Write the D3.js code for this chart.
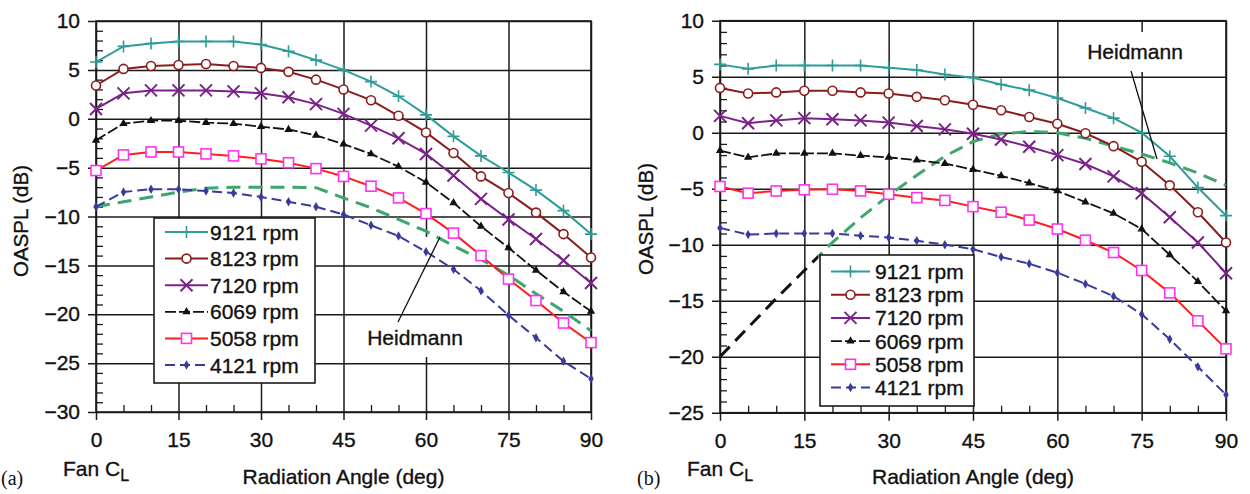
<!DOCTYPE html>
<html>
<head>
<meta charset="utf-8">
<script src="https://cdn.jsdelivr.net/npm/d3@7"></script>
<style>
  body { margin: 0; background: #fff; }
  text { font-family: "Liberation Sans", Arial, sans-serif; stroke: #111; stroke-width: 0.35px; }
</style>
</head>
<body>
<svg id="chart" width="1250" height="494"></svg>
<script>
// ---- data ----
const angles = [0, 5, 10, 15, 20, 25, 30, 35, 40, 45, 50, 55, 60, 65, 70, 75, 80, 85, 90];
const rpmLabels = ["9121 rpm", "8123 rpm", "7120 rpm", "6069 rpm", "5058 rpm", "4121 rpm"];
const xTicks = [0, 15, 30, 45, 60, 75, 90];
const xMinor = [5, 10, 20, 25, 35, 40, 50, 55, 65, 70, 80, 85];
const yTicksA = [10, 5, 0, -5, -10, -15, -20, -25, -30];
const yTicksB = [10, 5, 0, -5, -10, -15, -20, -25];

// panel (a)
const a9121 = [5.8, 7.4, 7.7, 7.9, 7.9, 7.9, 7.6, 6.9, 6.0, 5.0, 3.8, 2.3, 0.4, -1.8, -3.8, -5.5, -7.3, -9.4, -11.8];
const a8123 = [3.4, 5.1, 5.4, 5.5, 5.6, 5.4, 5.2, 4.8, 4.0, 3.0, 1.9, 0.3, -1.4, -3.5, -5.9, -7.6, -9.6, -11.8, -14.2];
const a7120 = [1.0, 2.6, 2.9, 2.9, 2.9, 2.8, 2.6, 2.2, 1.5, 0.5, -0.7, -2.0, -3.6, -5.8, -8.2, -10.3, -12.3, -14.5, -16.8];
const a6069 = [-2.2, -0.5, -0.2, -0.2, -0.4, -0.5, -0.8, -1.1, -1.7, -2.6, -3.6, -4.9, -6.5, -8.6, -11.0, -13.2, -15.5, -17.7, -19.7];
const a5058 = [-5.3, -3.7, -3.4, -3.4, -3.6, -3.8, -4.1, -4.5, -5.1, -5.9, -6.9, -8.1, -9.7, -11.7, -14.0, -16.4, -18.6, -20.9, -22.9];
const a4121 = [-9.0, -7.5, -7.2, -7.2, -7.4, -7.6, -8.0, -8.5, -9.0, -9.8, -10.9, -12.0, -13.6, -15.4, -17.6, -20.1, -22.4, -24.8, -26.6];
const aHeidmann = [-9.0, -8.5, -8.0, -7.5, -7.1, -7.0, -7.0, -7.0, -7.05, -8.1, -9.1, -10.3, -11.5, -13.0, -14.4, -16.0, -17.9, -19.7, -21.7];

// panel (b)
const b9121 = [6.1, 5.7, 6.0, 6.0, 6.0, 6.0, 5.8, 5.6, 5.2, 4.9, 4.3, 3.8, 3.1, 2.2, 1.3, 0.0, -2.1, -4.9, -7.4];
const b8123 = [4.0, 3.5, 3.6, 3.75, 3.75, 3.6, 3.5, 3.2, 2.9, 2.5, 2.0, 1.4, 0.8, -0.05, -1.2, -2.6, -4.7, -7.1, -9.8];
const b7120 = [1.5, 0.85, 1.1, 1.3, 1.2, 1.1, 0.9, 0.6, 0.3, -0.1, -0.6, -1.25, -2.0, -2.8, -3.9, -5.4, -7.55, -9.8, -12.55];
const b6069 = [-1.6, -2.2, -1.85, -1.85, -1.85, -2.05, -2.2, -2.45, -2.75, -3.3, -3.85, -4.5, -5.2, -6.2, -7.2, -8.6, -10.9, -13.3, -15.9];
const b5058 = [-4.8, -5.4, -5.2, -5.1, -5.05, -5.2, -5.5, -5.8, -6.05, -6.6, -7.1, -7.8, -8.6, -9.6, -10.7, -12.3, -14.3, -16.8, -19.3];
const b4121 = [-8.5, -9.1, -9.0, -9.0, -9.0, -9.2, -9.35, -9.65, -10.0, -10.4, -11.1, -11.7, -12.5, -13.5, -14.6, -16.2, -18.45, -20.9, -23.4];
const bHeidmann = [-20.0, -17.4, -14.8, -12.3, -9.8, -7.6, -5.6, -3.8, -2.1, -0.8, -0.1, 0.1, 0.0, -0.5, -1.2, -1.9, -2.7, -3.6, -4.7];

// ---- look of each rpm curve ----
const styles = [
  { color: "#2f9c98", dash: null, width: 2, marker: "plus" },
  { color: "#8b1c1c", dash: null, width: 2, marker: "circle" },
  { color: "#7a228a", dash: null, width: 2, marker: "cross" },
  { color: "#111", dash: "11,3", width: 1.8, marker: "triangle" },
  { color: "#ff1e1e", dash: null, width: 2, marker: "square" },
  { color: "#3a3a9c", dash: "10,5", width: 2, marker: "diamond" }
];
const heidColor = "#3ea56c";
const gridColor = "#1a1a1a";

const svg = d3.select("#chart");

function drawMarker(sel, kind, color) {
  if (kind === "plus") {
    sel.append("path").attr("d", "M-6,0H6M0,-6V6").attr("stroke", color).attr("stroke-width", 1.6).attr("fill", "none");
  } else if (kind === "circle") {
    sel.append("circle").attr("r", 4.5).attr("fill", "#fff").attr("stroke", color).attr("stroke-width", 1.6);
  } else if (kind === "cross") {
    sel.append("path").attr("d", "M-6,-6L6,6M-6,6L6,-6").attr("stroke", color).attr("stroke-width", 2).attr("fill", "none");
  } else if (kind === "triangle") {
    sel.append("path").attr("d", d3.symbol(d3.symbolTriangle, 30)()).attr("fill", color);
  } else if (kind === "square") {
    sel.append("rect").attr("x", -5).attr("y", -5).attr("width", 10).attr("height", 10)
      .attr("fill", "#fff").attr("stroke", "#ff33ee").attr("stroke-width", 1.6);
  } else if (kind === "diamond") {
    sel.append("path").attr("d", d3.symbol(d3.symbolDiamond, 26)()).attr("fill", color);
  }
}

function drawPanel(p) {
  const g = svg.append("g");
  const x = d3.scaleLinear([0, 90], [p.left, p.right]);
  const y = d3.scaleLinear(p.yDomain, [p.bottom, p.top]);
  const W = p.right - p.left, H = p.bottom - p.top;

  // vertical grid lines + angle labels
  const xAx = g.append("g").attr("transform", `translate(0,${p.top})`)
    .call(d3.axisBottom(x).tickValues(xTicks).tickSize(H + 8).tickPadding(12).tickFormat(d3.format("d")));
  xAx.select(".domain").remove();
  xAx.selectAll("line").attr("stroke", gridColor).attr("stroke-width", 1.5);
  xAx.selectAll("text").attr("font-size", 21).attr("fill", "#111").attr("font-family", null);

  // white patch behind the Heidmann label (covers vertical grid only)
  g.append("rect").attr("x", p.label.box[0]).attr("y", p.label.box[1])
    .attr("width", p.label.box[2]).attr("height", p.label.box[3]).attr("fill", "#fff");

  // horizontal grid lines + dB labels
  const yAx = g.append("g").attr("transform", `translate(${p.right},0)`)
    .call(d3.axisLeft(y).tickValues(p.yTicks).tickSize(W + 8).tickPadding(8).tickFormat(d3.format("d")));
  yAx.select(".domain").remove();
  yAx.selectAll("line").attr("stroke", gridColor).attr("stroke-width", 1.5);
  yAx.selectAll("text").attr("font-size", 21).attr("fill", "#111").attr("font-family", null);

  // minor ticks
  const yMin = g.append("g").attr("transform", `translate(${p.left},0)`)
    .call(d3.axisRight(y).tickValues(d3.range(p.yDomain[0], p.yDomain[1]).filter(v => v % 5 !== 0)).tickSize(7).tickFormat(""));
  yMin.select(".domain").remove();
  yMin.selectAll("line").attr("stroke", gridColor).attr("stroke-width", 1.3);
  const xMin = g.append("g").attr("transform", `translate(0,${p.bottom})`)
    .call(d3.axisTop(x).tickValues(xMinor).tickSize(7).tickFormat(""));
  xMin.select(".domain").remove();
  xMin.selectAll("line").attr("stroke", gridColor).attr("stroke-width", 1.3);

  // frame
  g.append("rect").attr("x", p.left).attr("y", p.top).attr("width", W).attr("height", H)
    .attr("fill", "none").attr("stroke", gridColor).attr("stroke-width", 1.6);

  const line = d3.line().x((d, i) => x(angles[i])).y(d => y(d));

  // Heidmann prediction (dashed)
  if (p.heidSplit != null) {
    const id = "clip" + p.name;
    const defs = g.append("defs");
    defs.append("clipPath").attr("id", id + "L").append("rect")
      .attr("x", 0).attr("y", 0).attr("width", x(p.heidSplit)).attr("height", 494);
    defs.append("clipPath").attr("id", id + "R").append("rect")
      .attr("x", x(p.heidSplit)).attr("y", 0).attr("width", 1250).attr("height", 494);
    g.append("path").datum(p.heid).attr("d", line).attr("fill", "none").attr("stroke", "#111")
      .attr("stroke-width", 3).attr("stroke-dasharray", "14,8").attr("clip-path", `url(#${id}L)`);
    g.append("path").datum(p.heid).attr("d", line).attr("fill", "none").attr("stroke", heidColor)
      .attr("stroke-width", 3).attr("stroke-dasharray", "14,8").attr("clip-path", `url(#${id}R)`);
  } else {
    g.append("path").datum(p.heid).attr("d", line).attr("fill", "none").attr("stroke", heidColor)
      .attr("stroke-width", 3).attr("stroke-dasharray", "14,8");
  }

  // rpm curves, lowest first so 9121 sits on top
  p.series.map((s, k) => ({ s, k })).reverse().forEach(({ s, k }) => {
    const st = styles[k];
    g.append("path").datum(s).attr("d", line).attr("fill", "none")
      .attr("stroke", st.color).attr("stroke-width", st.width)
      .attr("stroke-dasharray", st.dash);
    g.append("g").selectAll("g").data(s).join("g")
      .attr("transform", (d, i) => `translate(${x(angles[i])},${y(d)})`)
      .each(function () { drawMarker(d3.select(this), st.marker, st.color); });
  });

  // legend
  const L = p.legend;
  g.append("rect").attr("x", L.x).attr("y", L.y).attr("width", L.w).attr("height", L.h)
    .attr("fill", "#fff").attr("stroke", gridColor).attr("stroke-width", 1.6);
  rpmLabels.forEach((lab, k) => {
    const st = styles[k];
    const ly = L.firstY + k * L.step;
    g.append("line").attr("x1", L.lineX[0]).attr("x2", L.lineX[1]).attr("y1", ly).attr("y2", ly)
      .attr("stroke", st.color).attr("stroke-width", st.width).attr("stroke-dasharray", st.dash);
    drawMarker(g.append("g").attr("transform", `translate(${(L.lineX[0] + L.lineX[1]) / 2},${ly})`), st.marker, st.color);
    g.append("text").attr("x", L.textX).attr("y", ly).attr("dy", "0.36em")
      .attr("font-size", 21).attr("fill", "#111").text(lab);
  });

  // Heidmann label + leader
  g.append("line").attr("x1", p.label.leader[0]).attr("y1", p.label.leader[1])
    .attr("x2", p.label.leader[2]).attr("y2", p.label.leader[3])
    .attr("stroke", "#111").attr("stroke-width", 1.3);
  g.append("text").attr("x", p.label.x).attr("y", p.label.y).attr("dy", "0.36em")
    .attr("text-anchor", "middle").attr("font-size", 21).attr("fill", "#111").text("Heidmann");

  // axis titles
  g.append("text").attr("transform", `translate(${p.titleX},${p.titleY}) rotate(-90)`)
    .attr("text-anchor", "middle").attr("dy", "0.36em").attr("font-size", 20.5).attr("fill", "#111")
    .text("OASPL (dB)");
  const fan = g.append("text").attr("x", x(0)).attr("y", 468).attr("dy", "0.36em")
    .attr("text-anchor", "middle").attr("font-size", 21).attr("fill", "#111");
  fan.append("tspan").text("Fan C");
  fan.append("tspan").attr("dy", 5).attr("font-size", 16).text("L");
  g.append("text").attr("x", x(45)).attr("y", 476).attr("dy", "0.36em")
    .attr("text-anchor", "middle").attr("font-size", 21).attr("fill", "#111")
    .text("Radiation Angle (deg)");
  g.append("text").attr("x", p.tagX).attr("y", 478).attr("dy", "0.36em")
    .style("font-family", "'Liberation Serif', 'Times New Roman', serif")
    .style("stroke-width", "0px")
    .attr("font-size", 20).attr("fill", "#111").text(p.tag);
}

drawPanel({
  name: "a", tag: "(a)", tagX: 1,
  left: 96, right: 591, top: 21, bottom: 412,
  yDomain: [-30, 10], yTicks: yTicksA,
  series: [a9121, a8123, a7120, a6069, a5058, a4121],
  heid: aHeidmann, heidSplit: null,
  legend: { x: 154, y: 218, w: 161, h: 165, firstY: 232, step: 26.6, lineX: [165, 208], textX: 210 },
  label: { x: 415, y: 337, box: [364, 237, 104, 120], leader: [440, 237, 398, 322] },
  titleX: 21, titleY: 221
});

drawPanel({
  name: "b", tag: "(b)", tagX: 637,
  left: 720, right: 1226, top: 20.7, bottom: 412.7,
  yDomain: [-25, 10], yTicks: yTicksB,
  series: [b9121, b8123, b7120, b6069, b5058, b4121],
  heid: bHeidmann, heidSplit: 17.5,
  legend: { x: 820, y: 255, w: 154, h: 151, firstY: 271.5, step: 23.2, lineX: [831, 870], textX: 875 },
  label: { x: 1135, y: 51, box: [1083, 32, 107, 40], leader: [1131, 71, 1157, 159] },
  titleX: 646, titleY: 219
});
</script>
</body>
</html>
